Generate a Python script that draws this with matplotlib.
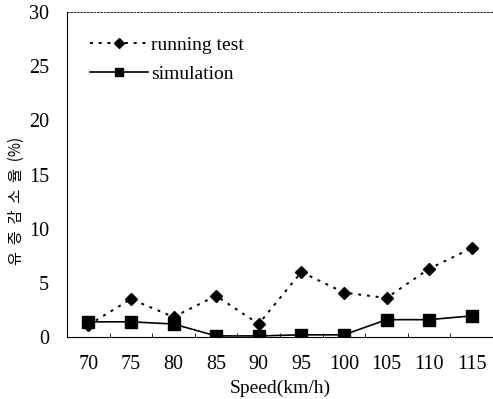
import matplotlib
matplotlib.use("Agg")
import matplotlib.pyplot as plt
import numpy as np

speeds = ["70", "75", "80", "85", "90", "95", "100", "105", "110", "115"]
running_test = [1.1, 3.5, 1.85, 3.8, 1.2, 6.0, 4.1, 3.6, 6.3, 8.2]
simulation = [1.4, 1.4, 1.2, 0.1, 0.1, 0.2, 0.2, 1.6, 1.6, 1.95]
yticks = [0, 5, 10, 15, 20, 25, 30]

W, H = 493, 399
fig = plt.figure(figsize=(W / 100, H / 100), dpi=100)
ax = fig.add_axes([67 / W, (H - 337) / H, 426 / W, 325 / H])
x = np.arange(len(speeds))
ax.plot(x, running_test, linestyle=(0, (1.5, 3)), color="black", lw=1.4,
        marker="D", markersize=6, label="running test")
ax.plot(x, simulation, linestyle="-", color="black", lw=1.2,
        marker="s", markersize=8, label="simulation")
ax.set_xlim(-0.5, len(speeds) - 0.5)
ax.set_ylim(0, 30)
ax.set_yticks(yticks)
ax.set_xticks(x)
ax.set_xticklabels(speeds)
ax.set_xticks(np.arange(-0.5, len(speeds), 1), minor=True)
ax.tick_params(axis="x", which="major", length=0, pad=13)
ax.tick_params(axis="x", which="minor", length=3, direction="in")
ax.tick_params(axis="y", length=0, pad=13)
for lab in ax.get_xticklabels() + ax.get_yticklabels():
    lab.set_fontfamily("Liberation Serif")
    lab.set_fontsize(14.5)
ax.spines["right"].set_visible(False)
ax.spines["top"].set_linestyle((0, (2, 2)))
ax.spines["top"].set_linewidth(0.6)
ax.spines["bottom"].set_linestyle((0, (4, 1)))
ax.spines["bottom"].set_linewidth(0.8)
ax.spines["left"].set_linewidth(0.8)
ax.set_xlabel("Speed(km/h)", fontfamily="Liberation Serif", fontsize=14)
ax.xaxis.set_label_coords(0.5, -0.13)
ax.set_ylabel("유  증  감  소  율  (%)", fontfamily=["Noto Sans CJK KR", "DejaVu Sans"], fontsize=11)
ax.yaxis.set_label_coords(-0.1, 0.42)
leg = fig.legend(*ax.get_legend_handles_labels(), loc="upper left", frameon=False,
                 bbox_to_anchor=(90 / W, (H - 36) / H), borderaxespad=0, borderpad=0,
                 prop={"family": "Liberation Serif", "size": 14},
                 handlelength=3.0, handletextpad=0.15, labelspacing=0.6,
                 markerscale=0.8)
fig.savefig("out.png", dpi=100)
